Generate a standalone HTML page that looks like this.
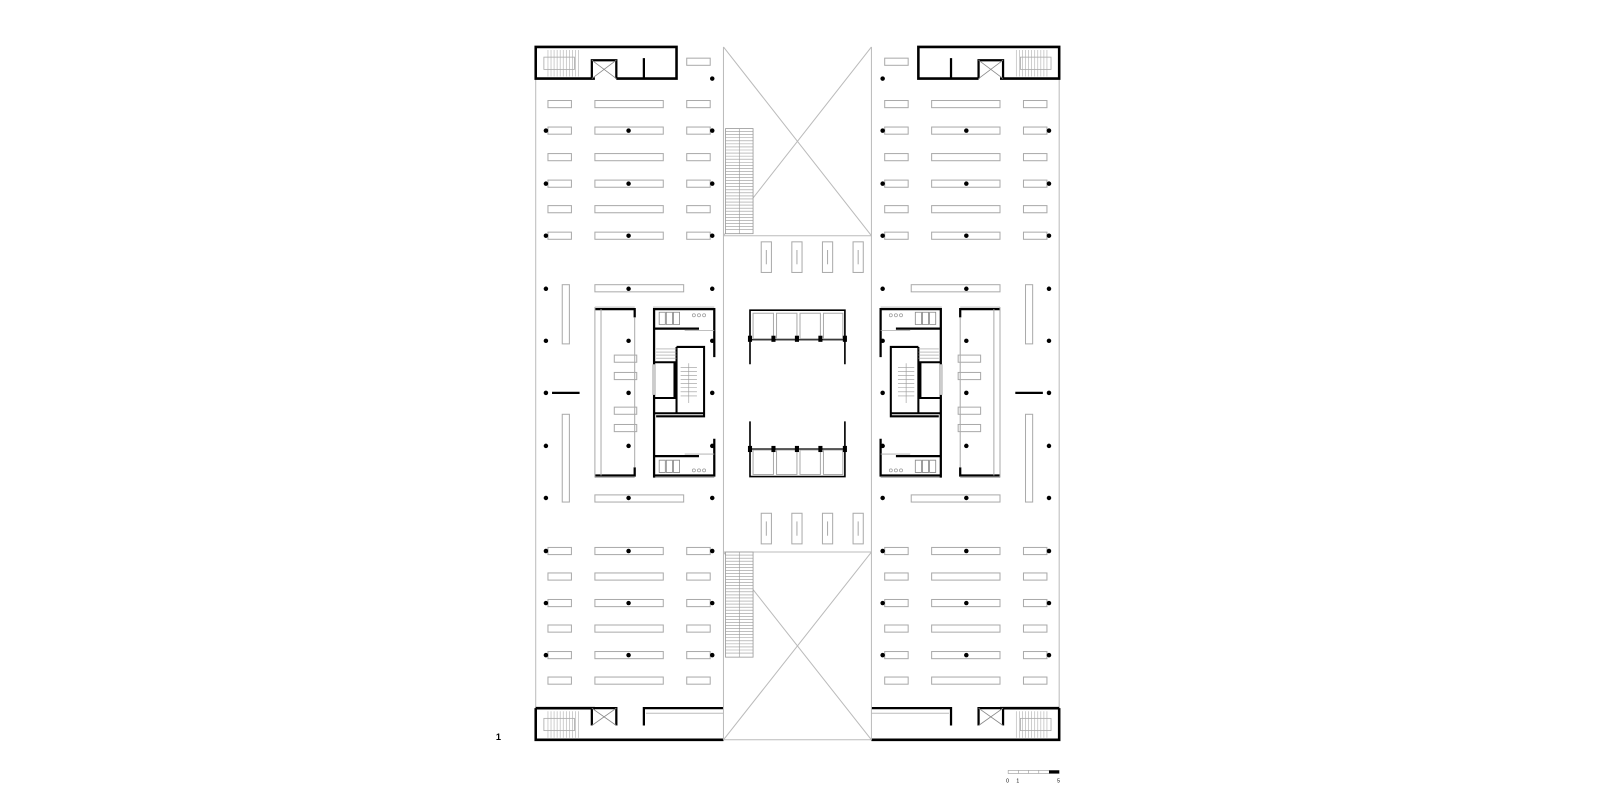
<!DOCTYPE html>
<html><head><meta charset="utf-8"><style>html,body{margin:0;padding:0;background:#fff}svg{display:block}</style></head>
<body>
<svg width="1600" height="800" viewBox="0 0 1568 784" xmlns="http://www.w3.org/2000/svg" font-family="Liberation Sans, sans-serif">
<defs>
<g id="r3">
  <rect x="537" y="-3.5" width="23" height="7" fill="none" stroke="#aaa" stroke-width="1"/>
  <rect x="583" y="-3.5" width="67" height="7" fill="none" stroke="#aaa" stroke-width="1"/>
  <rect x="673" y="-3.5" width="23" height="7" fill="none" stroke="#aaa" stroke-width="1"/>
</g>
<g id="d3">
  <circle cx="535" cy="0" r="2.2" fill="#000"/>
  <circle cx="616" cy="0" r="2.2" fill="#000"/>
  <circle cx="698" cy="0" r="2.2" fill="#000"/>
</g>
<g id="stairH">
  <path d="M0 0V26M3 0V26M6 0V26M9 0V26M12 0V26M15 0V26M18 0V26M21 0V26M24 0V26M27 0V26M30 0V26" stroke="#bbb" stroke-width="0.7"/>
  <rect x="-4" y="7" width="30" height="12" fill="none" stroke="#aaa" stroke-width="0.8"/>
</g>
<g id="stairV">
  <rect x="0" y="0" width="27" height="103" fill="#fff" stroke="#999" stroke-width="0.8"/>
  <path d="M0 3H27M0 6H27M0 9H27M0 12H27M0 15H27M0 18H27M0 21H27M0 24H27M0 27H27M0 30H27M0 33H27M0 36H27M0 39H27M0 42H27M0 45H27M0 48H27M0 51H27M0 54H27M0 57H27M0 60H27M0 63H27M0 66H27M0 69H27M0 72H27M0 75H27M0 78H27M0 81H27M0 84H27M0 87H27M0 90H27M0 93H27M0 96H27M0 99H27M13.5 0V103" stroke="#999" stroke-width="0.6"/>
</g>
<g id="lift">
  <rect x="0" y="0" width="10" height="30" fill="none" stroke="#aaa" stroke-width="1"/>
  <line x1="5" y1="8" x2="5" y2="22" stroke="#aaa" stroke-width="1"/>
</g>
<g id="wing">
  <!-- outline -->
  <line x1="525" y1="46" x2="525" y2="725" stroke="#bbb" stroke-width="1"/>
  <!-- top block -->
  <path d="M604 77H663V46H525V77H583" fill="none" stroke="#000" stroke-width="2.5"/>
  <path d="M604 77V59H580V77M631 57V77" fill="none" stroke="#000" stroke-width="2.2"/>
  <path d="M580 59L604 77M604 59L580 77" stroke="#888" stroke-width="0.8"/>
  <use href="#stairH" x="537" y="49"/>
  <rect x="673" y="57" width="23" height="7" fill="none" stroke="#aaa"/>
  <circle cx="698" cy="77" r="2.2"/>
  <!-- upper rows -->
  <use href="#r3" y="102"/><use href="#r3" y="128"/><use href="#r3" y="154"/>
  <use href="#r3" y="180"/><use href="#r3" y="205"/><use href="#r3" y="231"/>
  <use href="#d3" y="128"/><use href="#d3" y="180"/><use href="#d3" y="231"/>
  <!-- lower rows -->
  <use href="#r3" y="540"/><use href="#r3" y="565"/><use href="#r3" y="591"/>
  <use href="#r3" y="616"/><use href="#r3" y="642"/><use href="#r3" y="667"/>
  <use href="#d3" y="540"/><use href="#d3" y="591"/><use href="#d3" y="642"/>
  <!-- middle -->
  <rect x="583" y="279" width="87" height="7" fill="none" stroke="#aaa"/>
  <rect x="583" y="485" width="87" height="7" fill="none" stroke="#aaa"/>
  <use href="#d3" y="283"/><use href="#d3" y="488"/>
  <circle cx="535" cy="334" r="2.2"/><circle cx="616" cy="334" r="2.2"/><circle cx="698" cy="334" r="2.2"/>
  <circle cx="535" cy="385" r="2.2"/><circle cx="616" cy="385" r="2.2"/><circle cx="698" cy="385" r="2.2"/>
  <circle cx="535" cy="437" r="2.2"/><circle cx="616" cy="437" r="2.2"/><circle cx="698" cy="437" r="2.2"/>
  <rect x="551" y="279" width="7" height="58" fill="none" stroke="#aaa"/>
  <rect x="551" y="406" width="7" height="86" fill="none" stroke="#aaa"/>
  <line x1="541" y1="385" x2="568" y2="385" stroke="#000" stroke-width="2.2"/>
  <!-- left core strip -->
  <path d="M583 301H622M583 468H622" stroke="#bbb" stroke-width="1"/>
  <path d="M583 303H622V311M583 466H622V458" fill="none" stroke="#000" stroke-width="2.2"/>
  <path d="M583 301V468M589 303V466M622 311V458" stroke="#aaa" stroke-width="1"/>
  <rect x="602" y="348" width="22" height="7" fill="none" stroke="#aaa"/>
  <rect x="602" y="365" width="22" height="7" fill="none" stroke="#aaa"/>
  <rect x="602" y="399" width="22" height="7" fill="none" stroke="#aaa"/>
  <rect x="602" y="416" width="22" height="7" fill="none" stroke="#aaa"/>
  <!-- right core -->
  <path d="M640 301H700M640 468H700" stroke="#bbb" stroke-width="1"/>
  <path d="M641 468V303H700V350M641 466H700V430M641 322H685M641 447H685" fill="none" stroke="#000" stroke-width="2.2"/>
  <path d="M663 340H690V408H643M663 340V405M641 355H661V390H641M641 405H690" fill="none" stroke="#000" stroke-width="2"/>
  <path d="M646 306h6v12h-6zM653 306h6v12h-6zM660 306h6v12h-6zM646 451h6v12h-6zM653 451h6v12h-6zM660 451h6v12h-6z" fill="none" stroke="#888" stroke-width="0.8"/>
  <path d="M671 324H700M671 445H700" stroke="#aaa" stroke-width="0.8"/>
  <g fill="none" stroke="#999" stroke-width="0.7"><circle cx="680" cy="309" r="1.5"/><circle cx="685" cy="309" r="1.5"/><circle cx="690" cy="309" r="1.5"/><circle cx="680" cy="461" r="1.5"/><circle cx="685" cy="461" r="1.5"/><circle cx="690" cy="461" r="1.5"/></g>
  <path d="M643 342h20M643 345h20M643 348h20M643 351h20M667 360h16M667 364h16M667 368h16M667 372h16M667 376h16M667 380h16M667 384h16M667 388h16M675 356V395" stroke="#999" stroke-width="0.6"/>
  <rect x="639" y="357" width="3" height="30" fill="#ccc"/>
  <!-- bottom block -->
  <path d="M525 694V725H709M525 694H583" fill="none" stroke="#000" stroke-width="2.5"/>
  <path d="M580 711V694H604V711M631 711V694H709" fill="none" stroke="#000" stroke-width="2.2"/>
  <line x1="633" y1="699" x2="709" y2="699" stroke="#bbb"/>
  <path d="M580 694L604 711M604 694L580 711" stroke="#888" stroke-width="0.8"/>
  <use href="#stairH" x="537" y="697"/>
</g>
</defs>
<rect width="1568" height="784" fill="#fff"/>
<use href="#wing"/>
<use href="#wing" transform="matrix(-1 0 0 1 1563 0)"/>
<!-- atrium -->
<g stroke="#bbb" stroke-width="1" fill="none">
  <line x1="709" y1="46" x2="709" y2="725"/>
  <line x1="854" y1="46" x2="854" y2="725"/>
  <line x1="709" y1="231" x2="854" y2="231"/>
  <line x1="709" y1="541" x2="854" y2="541"/>
  <line x1="709" y1="725" x2="854" y2="725"/>
  <path d="M709 46L854 231M854 46L709 231M709 541L854 725M854 541L709 725"/>
</g>
<use href="#stairV" x="711" y="126"/>
<use href="#stairV" x="711" y="541"/>
<use href="#lift" x="746" y="237"/><use href="#lift" x="776" y="237"/><use href="#lift" x="806" y="237"/><use href="#lift" x="836" y="237"/>
<use href="#lift" x="746" y="503"/><use href="#lift" x="776" y="503"/><use href="#lift" x="806" y="503"/><use href="#lift" x="836" y="503"/>
<!-- central elevator boxes -->
<g fill="none">
  <path d="M735 357V304H828V357" stroke="#000" stroke-width="1.6"/>
  <path d="M735 333H828" stroke="#000" stroke-width="1.2"/>
  <path d="M738 307h20v25h-20zM761 307h20v25h-20zM784 307h20v25h-20zM807 307h19v25h-19z" stroke="#aaa"/>
  <path d="M735 413V467H828V413" stroke="#000" stroke-width="1.6"/>
  <path d="M735 440H828" stroke="#000" stroke-width="1.2"/>
  <path d="M738 441h20v24h-20zM761 441h20v24h-20zM784 441h20v24h-20zM807 441h19v24h-19z" stroke="#aaa"/>
</g>
<g fill="#000"><rect x="733" y="329" width="4" height="6"/><rect x="756" y="329" width="4" height="6"/><rect x="779" y="329" width="4" height="6"/><rect x="802" y="329" width="4" height="6"/><rect x="826" y="329" width="4" height="6"/>
<rect x="733" y="437" width="4" height="6"/><rect x="756" y="437" width="4" height="6"/><rect x="779" y="437" width="4" height="6"/><rect x="802" y="437" width="4" height="6"/><rect x="826" y="437" width="4" height="6"/></g>
<!-- label & scale -->
<text x="486" y="725" font-size="9" font-weight="bold">1</text>
<rect x="988" y="755" width="50" height="3" fill="#fff" stroke="#999" stroke-width="0.6"/>
<rect x="1028" y="755" width="10" height="3" fill="#000"/>
<path d="M998 755v3M1008 755v3M1018 755v3" stroke="#999" stroke-width="0.6"/>
<text x="986" y="767" font-size="5">0</text><text x="996" y="767" font-size="5">1</text><text x="1036" y="767" font-size="5">5</text>
</svg>
</body></html>
